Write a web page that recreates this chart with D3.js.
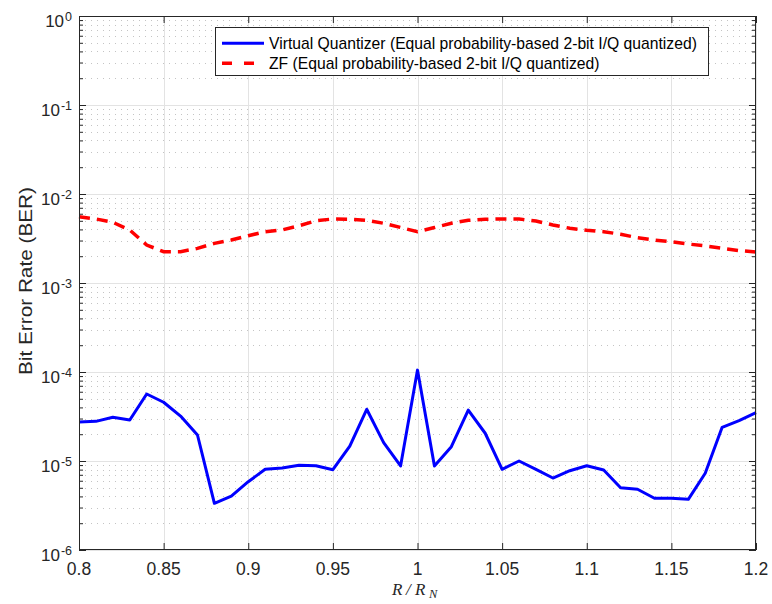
<!DOCTYPE html>
<html><head><meta charset="utf-8">
<script src="https://cdn.jsdelivr.net/npm/d3@7/dist/d3.min.js"></script>
<style>body{margin:0;background:#fff}svg{display:block}</style>
</head><body>
<script>
const rRatio = [0.80,0.81,0.82,0.83,0.84,0.85,0.86,0.87,0.88,0.89,0.90,0.91,0.92,0.93,0.94,0.95,0.96,0.97,0.98,0.99,1.00,1.01,1.02,1.03,1.04,1.05,1.06,1.07,1.08,1.09,1.10,1.11,1.12,1.13,1.14,1.15,1.16,1.17,1.18,1.19,1.20];
const berVQ = [2.74e-5,2.79e-5,3.10e-5,2.89e-5,5.66e-5,4.57e-5,3.20e-5,1.96e-5,3.35e-6,4.04e-6,5.85e-6,8.07e-6,8.34e-6,8.95e-6,8.85e-6,7.98e-6,1.47e-5,3.81e-5,1.61e-5,8.79e-6,1.05e-4,8.79e-6,1.45e-5,3.74e-5,2.05e-5,8.07e-6,1.00e-5,8.07e-6,6.44e-6,7.78e-6,8.85e-6,7.92e-6,5.01e-6,4.81e-6,3.81e-6,3.81e-6,3.71e-6,7.28e-6,2.39e-5,2.84e-5,3.49e-5];
const berZF = [5.56e-3,5.24e-3,4.81e-3,3.94e-3,2.67e-3,2.25e-3,2.25e-3,2.45e-3,2.79e-3,3.04e-3,3.40e-3,3.77e-3,3.94e-3,4.40e-3,5.01e-3,5.24e-3,5.20e-3,5.06e-3,4.69e-3,4.21e-3,3.77e-3,4.20e-3,4.69e-3,5.06e-3,5.20e-3,5.24e-3,5.24e-3,4.97e-3,4.49e-3,4.12e-3,3.91e-3,3.77e-3,3.53e-3,3.23e-3,3.04e-3,2.91e-3,2.74e-3,2.61e-3,2.45e-3,2.31e-3,2.23e-3];
const xTicks = [0.8,0.85,0.9,0.95,1.0,1.05,1.1,1.15,1.2];
const xTickLabels = ["0.8","0.85","0.9","0.95","1","1.05","1.1","1.15","1.2"];
const yExponents = [-6,-5,-4,-3,-2,-1,0];
const seriesNames = ["Virtual Quantizer (Equal probability-based 2-bit I/Q quantized)","ZF (Equal probability-based 2-bit I/Q quantized)"];

const W=772,H=604;
const L=79,R=756,T=16,B=550;
const svg=d3.select("body").append("svg").attr("width",W).attr("height",H);
const x=d3.scaleLinear().domain([0.8,1.2]).range([L,R]);
const y=d3.scaleLog().domain([1e-6,1]).range([B,T]);
const axisColor="#262626";
const font="'Liberation Sans', Arial, Helvetica, sans-serif";

const minorVals=[];
yExponents.slice(0,-1).forEach(e=>{for(let k=2;k<=9;k++)minorVals.push(k*Math.pow(10,e));});
const majorVals=yExponents.map(e=>Math.pow(10,e));

const grid=svg.append("g");
grid.selectAll(".mg").data(minorVals).enter().append("line")
 .attr("x1",L).attr("x2",R).attr("y1",d=>Math.round(y(d))+0.5).attr("y2",d=>Math.round(y(d))+0.5)
 .attr("stroke","#c4c4c4").attr("stroke-width",1).attr("stroke-dasharray","1,5");
grid.selectAll(".Mg").data(majorVals).enter().append("line")
 .attr("x1",L).attr("x2",R).attr("y1",d=>Math.round(y(d))+0.5).attr("y2",d=>Math.round(y(d))+0.5)
 .attr("stroke","#e3e3e3").attr("stroke-width",1);
grid.selectAll(".xg").data(xTicks).enter().append("line")
 .attr("x1",d=>Math.round(x(d))+0.5).attr("x2",d=>Math.round(x(d))+0.5).attr("y1",T).attr("y2",B)
 .attr("stroke","#e3e3e3").attr("stroke-width",1);

const line=d3.line().x((d,i)=>x(rRatio[i])).y(d=>y(d));
svg.append("path").datum(berVQ).attr("d",line).attr("fill","none").attr("stroke","#0000ff").attr("stroke-width",3).attr("stroke-linejoin","round");
svg.append("path").datum(berZF).attr("d",line).attr("fill","none").attr("stroke","#ff0000").attr("stroke-width",3.5).attr("stroke-dasharray","11,7");

function styleAxis(g){g.select(".domain").remove();g.selectAll("line").attr("stroke",axisColor);g.selectAll("text").remove();}
svg.append("g").attr("transform",`translate(0,${B})`).call(d3.axisBottom(x).tickValues(xTicks).tickSize(-7)).call(styleAxis);
svg.append("g").attr("transform",`translate(0,${T})`).call(d3.axisTop(x).tickValues(xTicks).tickSize(-7)).call(styleAxis);
svg.append("g").attr("transform",`translate(${L},0)`).call(d3.axisLeft(y).tickValues(majorVals).tickSize(-7)).call(styleAxis);
svg.append("g").attr("transform",`translate(${R},0)`).call(d3.axisRight(y).tickValues(majorVals).tickSize(-7)).call(styleAxis);
svg.append("g").attr("transform",`translate(${L},0)`).call(d3.axisLeft(y).tickValues(minorVals).tickSize(-4)).call(styleAxis);
svg.append("g").attr("transform",`translate(${R},0)`).call(d3.axisRight(y).tickValues(minorVals).tickSize(-4)).call(styleAxis);
svg.append("rect").attr("x",L+0.5).attr("y",T+0.5).attr("width",R-L-1).attr("height",B-T-1).attr("fill","none").attr("stroke",axisColor).attr("stroke-width",1);

svg.selectAll(".xl").data(xTicks).enter().append("text")
 .attr("x",d=>x(d)).attr("y",B+25).attr("text-anchor","middle").attr("font-family",font).attr("font-size",17.5).attr("fill",axisColor)
 .text((d,i)=>xTickLabels[i]);
yExponents.forEach(e=>{
 const t=svg.append("text").attr("x",72).attr("y",y(Math.pow(10,e))+11).attr("text-anchor","end").attr("font-family",font).attr("fill",axisColor);
 t.append("tspan").attr("font-size",17).text("10");
 t.append("tspan").attr("font-size",12.5).attr("dy",-6.5).attr("dx",1).text(String(e));
});

svg.append("text").attr("transform",`translate(32,281) rotate(-90)`).attr("text-anchor","middle")
 .attr("font-family",font).attr("font-size",18.5).attr("textLength",188).attr("lengthAdjust","spacingAndGlyphs")
 .attr("fill",axisColor).text("Bit Error Rate (BER)");
const serif="'Liberation Serif','DejaVu Serif',serif";
const xl=svg.append("text").attr("y",595).attr("font-family",serif).attr("font-size",17).attr("fill",axisColor);
xl.append("tspan").attr("x",392).attr("font-style","italic").text("R");
xl.append("tspan").attr("x",406).attr("font-style","italic").text("/");
xl.append("tspan").attr("x",415).attr("font-style","italic").text("R");
xl.append("tspan").attr("x",429).attr("dy",3).attr("font-size",12.5).attr("font-style","italic").text("N");

const lg=svg.append("g");
lg.append("rect").attr("x",215.5).attr("y",27.5).attr("width",493).attr("height",48).attr("fill","#fff").attr("stroke",axisColor).attr("stroke-width",1);
const lstyles=[{c:"#0000ff",d:null,w:3},{c:"#ff0000",d:"10,12",w:3.5}];
seriesNames.forEach((n,i)=>{
 const cy=43.3+i*20;
 const l=lg.append("line").attr("x1",222).attr("x2",264).attr("y1",cy).attr("y2",cy).attr("stroke",lstyles[i].c).attr("stroke-width",lstyles[i].w);
 if(lstyles[i].d)l.attr("stroke-dasharray",lstyles[i].d);
 lg.append("text").attr("x",269).attr("y",cy+6).attr("font-family",font).attr("font-size",15.7).attr("fill","#000").text(n);
});
</script>
</body></html>
